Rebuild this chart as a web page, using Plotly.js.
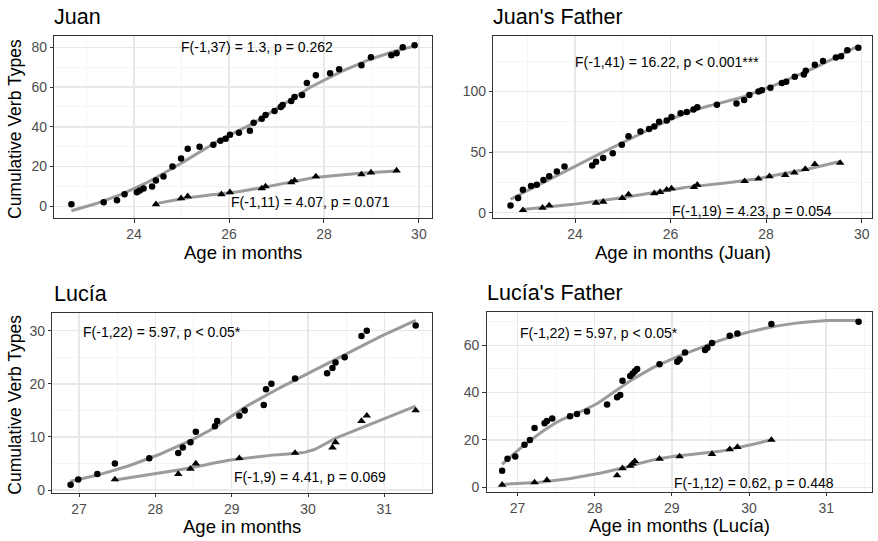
<!DOCTYPE html>
<html>
<head>
<meta charset="utf-8">
<script src="https://cdn.plot.ly/plotly-3.0.1.min.js"></script>
<style>html,body{margin:0;padding:0;background:#fff;}#chart{width:878px;height:541px;}</style>
</head>
<body>
<div id="chart"></div>
<script>
// ---------- DATA ----------
// Juan (child)
const juanAgeCircle = [22.68,23.36,23.64,23.80,24.06,24.12,24.20,24.38,24.46,24.62,24.81,24.99,25.13,25.38,25.67,25.82,25.93,26.02,26.21,26.44,26.52,26.69,26.77,26.96,27.09,27.13,27.31,27.38,27.54,27.64,27.83,28.13,28.32,28.79,28.99,29.42,29.53,29.66,29.91];
const juanCircle    = [1,2,3,6,7,8,9,10,13,15,20,24,29,30,31,33,34,36,37,38,42,44,46,48,50,51,53,55,56,62,66,67,69,71,75,76,77,80,81];
const juanAgeTri = [24.46,24.99,25.13,25.84,26.02,26.69,26.77,27.31,27.38,27.83,28.79,28.99,29.53];
const juanTri    = [1,4,5,6,7,9,10,12,13,15,16,17,18];

// Juan's Father
const jfAgeCircle = [22.65,22.81,22.91,23.08,23.20,23.34,23.46,23.62,23.78,24.36,24.44,24.59,24.79,24.98,25.12,25.37,25.55,25.66,25.76,25.92,26.02,26.21,26.34,26.48,26.56,26.97,27.38,27.54,27.65,27.84,27.91,28.09,28.33,28.42,28.60,28.79,28.83,29.02,29.19,29.46,29.57,29.70,29.93];
const jfCircle    = [6,12,19,22,23,27,30,34,38,39,42,45,49,56,63,67,69,71,75,76,79,82,83,85,87,89,90,93,97,100,101,103,107,108,112,114,117,122,125,128,129,134,136];
const jfAgeTri = [22.91,23.32,23.46,24.44,24.59,24.99,25.12,25.66,25.78,25.92,26.02,26.49,26.56,27.55,27.84,28.07,28.40,28.59,28.82,29.02,29.55];
const jfTri    = [2,4,6,8,9,12,15,16,17,19,20,21,23,26,28,30,31,33,36,40,41];

// Lucía (child)
const luciaAgeCircle = [26.89,26.99,27.24,27.47,27.92,28.30,28.36,28.46,28.53,28.78,28.81,29.10,29.17,29.42,29.45,29.52,29.83,30.25,30.32,30.36,30.48,30.70,30.77,31.41];
const luciaCircle    = [1,2,3,5,6,7,8,9,11,12,13,14,15,16,19,20,21,22,23,24,25,29,30,31];
const luciaAgeTri = [27.47,28.30,28.46,28.53,29.10,29.83,30.32,30.36,30.70,30.77,31.41];
const luciaTri    = [2,3,4,5,6,7,8,9,13,14,15];

// Lucía's Father
const lfAgeCircle = [26.80,26.87,26.97,27.09,27.16,27.22,27.35,27.38,27.45,27.68,27.77,27.90,28.16,28.29,28.33,28.36,28.46,28.49,28.52,28.55,28.84,29.07,29.10,29.17,29.43,29.46,29.52,29.75,29.85,30.29,31.42];
const lfCircle    = [7,12,13,18,20,25,27,28,29,30,31,32,35,38,39,45,47,48,49,50,52,53,54,57,58,59,61,64,65,69,70];
const lfAgeTri = [26.80,27.22,27.38,28.29,28.36,28.46,28.49,28.52,28.84,29.10,29.52,29.75,29.85,30.29];
const lfTri    = [1,2,3,5,8,9,10,11,12,13,14,16,17,20];

// Text
const panelTitles = ["Juan", "Juan's Father", "Lucía", "Lucía's Father"];
const xTitles = ["Age in months", "Age in months (Juan)", "Age in months", "Age in months (Lucía)"];
const yTitle = "Cumulative Verb Types";
const statCircle = ["F(-1,37) = 1.3, p = 0.262", "F(-1,41) = 16.22, p < 0.001***", "F(-1,22) = 5.97, p < 0.05*", "F(-1,22) = 5.97, p < 0.05*"];
const statTri = ["F(-1,11) = 4.07, p = 0.071", "F(-1,19) = 4.23, p = 0.054", "F(-1,9) = 4.41, p = 0.069", "F(-1,12) = 0.62, p = 0.448"];
const statCirclePos = [[26.6, 80], [25.93, 124.5], [28.09, 29.8], [28.05, 65.3]];
const statTriPos = [[27.71, 2.3], [27.71, 1.6], [30.03, 2.5], [30.06, 1.85]];

// ---------- LOESS (span .75, degree 2, tricube, kd-tree + Hermite interpolation like R) ----------
function localFit(xs, ys, q, x0) {
  const n = xs.length;
  const d = xs.map(x => Math.abs(x - x0));
  const h = [...d].sort((a, b) => a - b)[q - 1] * 1.0001;
  const S = [[0,0,0],[0,0,0],[0,0,0]], B = [0,0,0];
  for (let i = 0; i < n; i++) {
    const u = d[i] / h;
    if (u >= 1) continue;
    const w = Math.pow(1 - u*u*u, 3);
    const t = xs[i] - x0, v = [1, t, t*t];
    for (let a = 0; a < 3; a++) {
      B[a] += w * v[a] * ys[i];
      for (let b = 0; b < 3; b++) S[a][b] += w * v[a] * v[b];
    }
  }
  const M = S.map((r, i) => [...r, B[i]]);
  for (let c = 0; c < 3; c++) {
    let p = c;
    for (let r = c + 1; r < 3; r++) if (Math.abs(M[r][c]) > Math.abs(M[p][c])) p = r;
    [M[c], M[p]] = [M[p], M[c]];
    for (let r = 0; r < 3; r++) {
      if (r === c) continue;
      const f = M[r][c] / M[c][c];
      for (let j = c; j < 4; j++) M[r][j] -= f * M[c][j];
    }
  }
  return [M[0][3] / M[0][0], M[1][3] / M[1][1]];
}
function loess(xsIn, ysIn, span) {
  const idx = xsIn.map((_, i) => i).sort((a, b) => xsIn[a] - xsIn[b]);
  const xs = idx.map(i => xsIn[i]), ys = idx.map(i => ysIn[i]);
  const n = xs.length, q = Math.floor(n * span + 1e-5);
  const fc = Math.floor(n * span * 0.2);
  const lo = xs[0], hi = xs[n - 1];
  const mu = 0.005 * (hi - lo);
  const verts = [lo - mu, hi + mu];
  (function split(l, u) {
    if (u - l + 1 <= Math.max(fc, 1)) return;
    const m = Math.floor((l + u + 2) / 2) - 1;
    if (m + 1 > u) return;
    const v = (xs[m] + xs[m + 1]) / 2;
    verts.push(v);
    split(l, m); split(m + 1, u);
  })(0, n - 1);
  verts.sort((a, b) => a - b);
  const vf = verts.map(v => localFit(xs, ys, q, v));
  const ox = [], oy = [];
  for (let k = 0; k < 80; k++) {
    const x = lo + (hi - lo) * k / 79;
    let j = 0;
    while (j < verts.length - 2 && x > verts[j + 1]) j++;
    const x0 = verts[j], x1 = verts[j + 1], hh = x1 - x0, t = (x - x0) / hh;
    const h00 = 2*t*t*t - 3*t*t + 1, h10 = t*t*t - 2*t*t + t, h01 = -2*t*t*t + 3*t*t, h11 = t*t*t - t*t;
    ox.push(x);
    oy.push(h00 * vf[j][0] + h10 * hh * vf[j][1] + h01 * vf[j + 1][0] + h11 * hh * vf[j + 1][1]);
  }
  return [ox, oy];
}

// ---------- BUILD ----------
const groups = [
  [juanAgeCircle, juanCircle, juanAgeTri, juanTri],
  [jfAgeCircle, jfCircle, jfAgeTri, jfTri],
  [luciaAgeCircle, luciaCircle, luciaAgeTri, luciaTri],
  [lfAgeCircle, lfCircle, lfAgeTri, lfTri]
];
const W = 878, H = 541;
const boxes = [ // [left, right, top, bottom] in px
  [54.3, 431.7, 36, 218],
  [493.3, 871.7, 36, 218],
  [52.3, 431.7, 312.7, 492.7],
  [486.7, 871.7, 311.7, 491.7]
];
const xRanges = [[22.32, 30.27], [22.29, 30.21], [26.65, 31.62], [26.60, 31.59]];
const yRanges = [[-5.9, 85.7], [-4.4, 145.7], [-0.5, 33.4], [-1.9, 74.2]];
const xDt = [[2, 1], [2, 1], [1, 0.5], [1, 0.5]];
const yDt = [[20, 10], [50, 25], [10, 5], [20, 10]];

const FONT = "'Liberation Sans', Arial, Helvetica, sans-serif";
const traces = [];
const layout = {
  width: W, height: H,
  margin: {l: 0, r: 0, t: 0, b: 0},
  paper_bgcolor: '#ffffff', plot_bgcolor: '#ffffff',
  showlegend: false,
  font: {family: FONT, color: '#000'},
  annotations: []
};

groups.forEach((g, i) => {
  const sx = i === 0 ? '' : String(i + 1);
  const xa = 'x' + sx, ya = 'y' + sx;
  const [cx, cy, tx, ty] = g;
  const lc = loess(cx, cy, 0.75), lt = loess(tx, ty, 0.75);
  const lineStyle = {color: '#9b9b9b', width: 3};
  traces.push({x: lc[0], y: lc[1], xaxis: xa, yaxis: ya, mode: 'lines', line: lineStyle, hoverinfo: 'skip'});
  traces.push({x: lt[0], y: lt[1], xaxis: xa, yaxis: ya, mode: 'lines', line: lineStyle, hoverinfo: 'skip'});
  traces.push({x: cx, y: cy, xaxis: xa, yaxis: ya, mode: 'markers', marker: {symbol: 'circle', size: 6.5, color: '#000'}});
  traces.push({x: tx, y: ty, xaxis: xa, yaxis: ya, mode: 'markers', marker: {symbol: 'triangle-up', size: 7.5, color: '#000'}});

  const b = boxes[i];
  const common = {
    showline: true, mirror: true, linecolor: '#333333', linewidth: 1,
    ticks: 'outside', ticklen: 3.5, tickcolor: '#333333', tickwidth: 1,
    tickfont: {family: FONT, size: 14, color: '#4d4d4d'},
    showgrid: true, gridcolor: '#e8e8e8', gridwidth: 1.4,
    zeroline: false, fixedrange: true
  };
  layout['xaxis' + sx] = Object.assign({}, common, {
    domain: [b[0] / W, b[1] / W], anchor: ya,
    range: xRanges[i], tick0: 0, dtick: xDt[i][0],
    minor: {dtick: xDt[i][1], tick0: 0, showgrid: true, gridcolor: '#f3f3f3', gridwidth: 0.8, ticks: ''}
  });
  layout['yaxis' + sx] = Object.assign({}, common, {
    domain: [1 - b[3] / H, 1 - b[2] / H], anchor: xa,
    range: yRanges[i], tick0: 0, dtick: yDt[i][0],
    minor: {dtick: yDt[i][1], tick0: 0, showgrid: true, gridcolor: '#f3f3f3', gridwidth: 0.8, ticks: ''}
  });

  // panel title
  layout.annotations.push({
    text: panelTitles[i], xref: 'paper', yref: 'paper', showarrow: false,
    x: (i % 2 === 0 ? 52 : b[0] - 2) / W, xanchor: 'left',
    y: 1 - (b[2] - 19) / H, yanchor: 'middle',
    font: {family: FONT, size: 21.5, color: '#000'}
  });
  // x title
  layout.annotations.push({
    text: xTitles[i], xref: 'paper', yref: 'paper', showarrow: false,
    x: (b[0] + b[1]) / 2 / W, xanchor: 'center',
    y: 1 - (b[3] + 34) / H, yanchor: 'middle',
    font: {family: FONT, size: 18.5, color: '#000'}
  });
  // y title only on left panels
  if (i % 2 === 0) {
    layout.annotations.push({
      text: yTitle, xref: 'paper', yref: 'paper', showarrow: false,
      x: 15 / W, xanchor: 'center',
      y: 1 - ((b[2] + b[3]) / 2 + 2) / H, yanchor: 'middle', textangle: -90,
      font: {family: FONT, size: 17.5, color: '#000'}
    });
  }
  // statistics text
  layout.annotations.push({
    text: statCircle[i], xref: xa, yref: ya, showarrow: false,
    x: statCirclePos[i][0], y: statCirclePos[i][1], xanchor: 'center', yanchor: 'middle',
    font: {family: FONT, size: 14, color: '#000'}
  });
  layout.annotations.push({
    text: statTri[i], xref: xa, yref: ya, showarrow: false,
    x: statTriPos[i][0], y: statTriPos[i][1], xanchor: 'center', yanchor: 'middle',
    font: {family: FONT, size: 14, color: '#000'}
  });
});

Plotly.newPlot('chart', traces, layout, {staticPlot: true, displayModeBar: false});
</script>
</body>
</html>
